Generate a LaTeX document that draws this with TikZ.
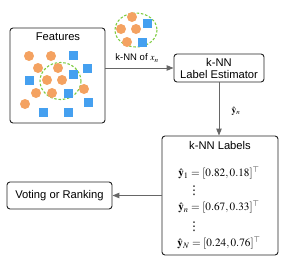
\documentclass[tikz,border=0pt]{standalone}
\usepackage{mathptmx}
\usepackage{fontspec}
\setmainfont{Liberation Sans}
\newfontfamily\symfont{DejaVu Sans}
\usetikzlibrary{arrows.meta}
\definecolor{dotorange}{HTML}{F4A261}
\definecolor{sqblue}{HTML}{45A0F0}
\definecolor{nngreen}{HTML}{7CCB3E}
\definecolor{arrowgray}{HTML}{666666}
\definecolor{boxline}{HTML}{222222}
\tikzset{
  box/.style={draw=boxline, line width=0.9pt, rounded corners=3pt, inner sep=0pt},
  txt/.style={inner sep=0pt, font=\fontsize{11.2}{13}\selectfont, align=center},
  smalltxt/.style={inner sep=0pt, font=\fontsize{9.5}{11}\selectfont},
  vd/.style={inner sep=0pt, font=\symfont\fontsize{12}{12}\selectfont, text height=9pt, text depth=0pt},
  conn/.style={draw=arrowgray, line width=1pt, -{Triangle[length=7pt,width=5.5pt]}},
  dot/.style={fill=dotorange, draw=none},
  sq/.style={fill=sqblue, draw=none},
  nn/.style={draw=nngreen, line width=1.1pt, dash pattern=on 2.5pt off 1.8pt},
}
\newcommand{\Dot}[2]{\fill[dot] (#1,#2) circle (5);}
\newcommand{\Sq}[2]{\fill[sq] ({#1-4.5},{#2-4.5}) rectangle ({#1+4.5},{#2+4.5});}
\begin{document}
\begin{tikzpicture}[x=1pt,y=-1pt]
\useasboundingbox (0,0) rectangle (290,268);
% boxes
\node[box, minimum width=95pt, minimum height=95pt] (feat) at (57.5,75.5) {};
\node[txt] (feattitle) at (58,37) {Features};
\node[box, minimum width=90pt, minimum height=28pt, txt] (est) at (219,68) {k-NN\\[-1pt]Label Estimator};
\node[box, minimum width=116pt, minimum height=119pt] (lab) at (220,195.5) {};
\node[box, minimum width=105pt, minimum height=27pt, txt] (vote) at (59.5,195.5) {Voting or Ranking};
% labels content
\node[txt] (labtitle) at (220,145) {k-NN Labels};
\node[txt] (y1) at (219,173) {$\hat{\mathbf{y}}_1=[0.82,0.18]^{\top}$};
\node[vd] (d1) at (194,189.5) {⋮};
\node[txt] (yn) at (219,207) {$\hat{\mathbf{y}}_n=[0.67,0.33]^{\top}$};
\node[vd] (d2) at (194,226) {⋮};
\node[txt] (yN) at (219,243) {$\hat{\mathbf{y}}_N=[0.24,0.76]^{\top}$};
% feature points
\draw[nn] (60.5,81) ellipse (20.5 and 18.5);
\Dot{29}{56}\Dot{51}{56}\Dot{38}{68}\Dot{58}{68}\Dot{47}{80}\Dot{62}{80}
\Dot{36}{93}\Dot{52}{93}\Dot{84}{89}\Dot{25}{104}
\Sq{73}{55}\Sq{87}{68}\Sq{73}{74}\Sq{29}{80}\Sq{68}{93}\Sq{88}{102}\Sq{43}{112}\Sq{68}{112}
% top cluster
\draw[nn] (136,30) ellipse (21 and 17);
\Dot{132}{17}\Dot{121}{29}\Dot{136}{29}\Dot{127}{42}
\Sq{147}{23}\Sq{142}{42}
\node[smalltxt] (knnlab) at (137,58) {k-NN of $x_n$};
% connectors
\draw[conn] (feat.east |- est.west) -- (est.west);
\draw[conn] (est.south) -- (est.south |- lab.north);
\node[smalltxt] (ynlab) at (236,111) {$\hat{\mathbf{y}}_n$};
\draw[conn] (lab.west) -- (vote.east);
\end{tikzpicture}
\end{document}
